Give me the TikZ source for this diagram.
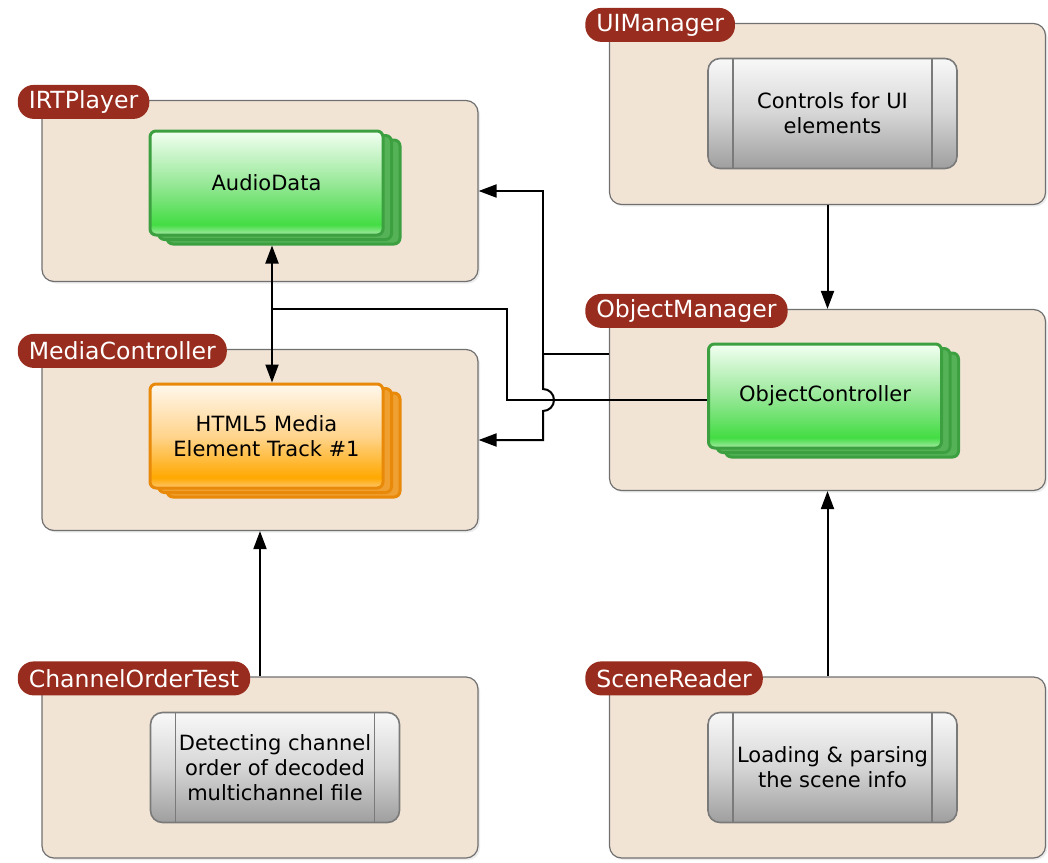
\documentclass[tikz,border=0pt]{standalone}
\usepackage{fontspec}
\setmainfont{DejaVu Sans}
\usetikzlibrary{calc, positioning, arrows.meta, shadows}
\definecolor{beige}{HTML}{F1E4D5}
\definecolor{boxline}{HTML}{707070}
\definecolor{tabred}{HTML}{982C1E}
\definecolor{gline}{HTML}{3DA040}
\definecolor{gback}{HTML}{55B257}
\definecolor{gtop}{HTML}{F2FFF2}
\definecolor{gmid}{HTML}{98E898}
\definecolor{gbright}{HTML}{44DD44}
\definecolor{gbot}{HTML}{A8EAA8}
\definecolor{oline}{HTML}{E8890A}
\definecolor{oback}{HTML}{F0A030}
\definecolor{otop}{HTML}{FFF8EE}
\definecolor{omid}{HTML}{FFD48C}
\definecolor{obright}{HTML}{FFA800}
\definecolor{obot}{HTML}{FFC870}
\definecolor{pline}{HTML}{7A7A7A}
\definecolor{ptop}{HTML}{F8F8F8}
\definecolor{pmid}{HTML}{D6D6D6}
\definecolor{pbot}{HTML}{9E9E9E}
\pgfdeclareverticalshading{greenglass}{100bp}{color(0bp)=(gbot); color(25bp)=(gbot); color(30bp)=(gbright); color(50bp)=(gmid); color(75bp)=(gtop); color(100bp)=(gtop)}
\pgfdeclareverticalshading{orangeglass}{100bp}{color(0bp)=(obot); color(25bp)=(obot); color(30bp)=(obright); color(50bp)=(omid); color(75bp)=(otop); color(100bp)=(otop)}
\pgfdeclareverticalshading{grayglass}{100bp}{color(0bp)=(pbot); color(25bp)=(pbot); color(50bp)=(pmid); color(75bp)=(ptop); color(100bp)=(ptop)}

\begin{document}
\begin{tikzpicture}[x=0.5pt, y=-0.5pt,
  group/.style={draw=boxline, fill=beige, rounded corners=6pt, line width=0.6pt,
    minimum width=218pt, minimum height=90.5pt,
    drop shadow={opacity=0.15, shadow xshift=1pt, shadow yshift=-1pt}},
  tab/.style={fill=tabred, text=white, rounded corners=8pt, minimum height=17pt,
    inner xsep=5.5pt, inner ysep=0pt, font=\fontsize{11.8}{14}\selectfont,
    anchor=west, xshift=-12pt, yshift=-1pt},
  stack/.style={line width=1.5pt, rounded corners=3pt, minimum width=116.5pt,
    minimum height=52pt, align=center, font=\fontsize{10.5}{12.5}\selectfont},
  greenbox/.style={stack, shading=greenglass, draw=gline,
    double copy shadow={shadow xshift=4.25pt, shadow yshift=-2.25pt, fill=gback, draw=gline}},
  orangebox/.style={stack, shading=orangeglass, draw=oline,
    double copy shadow={shadow xshift=4.25pt, shadow yshift=-2.25pt, fill=oback, draw=oline}},
  proc/.style={shading=grayglass, draw=pline, line width=0.8pt, rounded corners=6pt,
    minimum width=124.5pt, minimum height=55pt, align=center,
    font=\fontsize{10.5}{12.5}\selectfont,
    path picture={\draw[pline, line width=0.6pt]
      ([xshift=12.5pt]path picture bounding box.north west) -- ([xshift=12.5pt]path picture bounding box.south west)
      ([xshift=-12.5pt]path picture bounding box.north east) -- ([xshift=-12.5pt]path picture bounding box.south east);}},
  arr/.style={-{Triangle[length=9pt,width=6.5pt]}, line width=1pt},
  wire/.style={line width=1pt}]
\useasboundingbox (0,0) rectangle (1048,862);
% groups %
\node[group] (irt) at (260,191) {};
\node[group] (media) at (260,440) {};
\node[group] (ui) at (827.5,114) {};
\node[group] (objm) at (827.5,400) {};
\node[group] (chan) at (260,767.5) {};
\node[group] (scene) at (827.5,767.5) {};
% tabs %
\node[tab] (irttab) at (irt.north west) {IRTPlayer};
\node[tab] (mediatab) at (media.north west) {MediaController};
\node[tab] (uitab) at (ui.north west) {UIManager};
\node[tab] (objmtab) at (objm.north west) {ObjectManager};
\node[tab] (chantab) at (chan.north west) {ChannelOrderTest};
\node[tab] (scenetab) at (scene.north west) {SceneReader};
% inner boxes %
\node[greenbox] (audio) at (266.5,183) {AudioData};
\node[orangebox] (html) at (266.5,436) {HTML5 Media\\Element Track \#1};
\node[greenbox] (ctrl) at (825,396) {ObjectController};
\node[proc] (uictl) at (832.5,113.5) {Controls for UI\\elements};
\node[proc] (detect) at (275,767.5) {Detecting channel\\order of decoded\\multichannel file};
\node[proc] (load) at (832.5,767.5) {Loading \& parsing\\the scene info};
% edges %
\draw[arr] (ui) -- (objm);
\draw[arr] (scene) -- (objm);
\draw[arr] (chan) -- (media);
\draw[arr, {Triangle[length=9pt,width=6.5pt]}-{Triangle[length=9pt,width=6.5pt]}]
  ([xshift=2.75pt, yshift=-4.5pt]audio.south) -- ([xshift=2.75pt]html.north);
\coordinate (tap) at (272,309);
\coordinate (bend) at (507,400);
\draw[wire] (tap) -| (bend) -- (ctrl.west |- bend);
\coordinate (fork) at (543,354);
\draw[wire] (objm.west |- fork) -- (fork);
\draw[arr] (fork) |- (irt.east);
\draw[arr] (fork) -- ++(0,35) arc[start angle=90, end angle=-90, radius=5.5pt] |- (media.east);
\end{tikzpicture}
\end{document}
